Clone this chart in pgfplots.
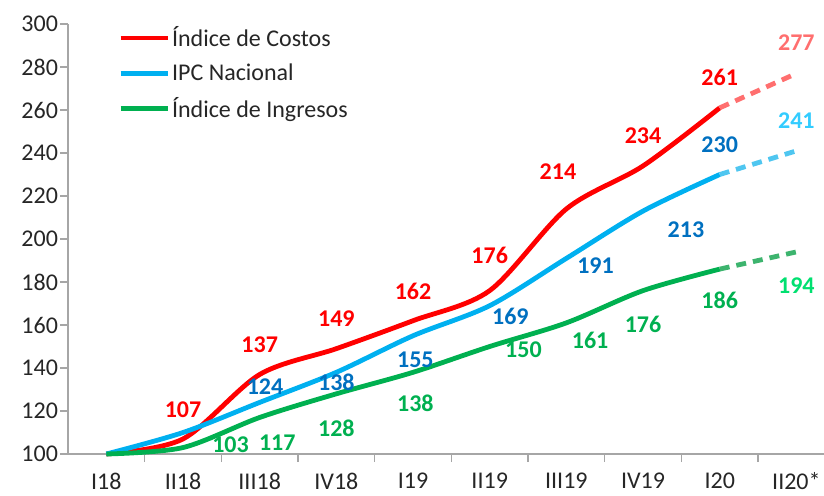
\documentclass[border=0pt]{standalone}
\usepackage{pgfplots}
\pgfplotsset{compat=1.18}
\usepackage{fontspec}
\setmainfont{Carlito}
\definecolor{cred}{HTML}{FF0000}
\definecolor{cblue}{HTML}{00B0F0}
\definecolor{cgreen}{HTML}{00B050}
\definecolor{dred}{HTML}{FF6F6F}
\definecolor{dblue}{HTML}{4FC6F0}
\definecolor{dgreen}{HTML}{3DB46E}
\definecolor{lblue}{HTML}{0070C0}
\definecolor{lred2}{HTML}{FF6F6F}
\definecolor{lblue2}{HTML}{33CCFF}
\definecolor{lgreen2}{HTML}{00E070}
\definecolor{axgray}{HTML}{A6A6A6}
\begin{document}
\begin{tikzpicture}
\useasboundingbox (-34pt,-20.5pt) rectangle (378pt,227pt);
\begin{axis}[
  scale only axis, width=378pt, height=215pt,
  xmin=-0.5, xmax=9.36, ymin=100, ymax=300,
  ytick={100,120,...,300},
  xtick={0,...,9},
  xticklabels={I18,II18,III18,IV18,I19,II19,III19,IV19,I20,II20*},
  minor xtick={0.5,1.5,...,8.5},
  major x tick style={draw=none},
  axis x line*=bottom, axis y line*=left,
  axis line style={axgray, line width=0.7pt},
  tick style={axgray, line width=0.7pt},
  tick align=outside,
  major tick length=4pt, minor tick length=4pt,
  tick label style={font=\fontsize{12}{14}\selectfont, text=black!85},
  yticklabel style={xshift=2.5pt},
  xticklabel style={yshift=-1.8pt},
  /pgf/number format/assume math mode=true,
  legend style={at={(rel axis cs:0.066,1.0)}, anchor=north west, draw=none, fill=none,
    font=\fontsize{12}{14}\selectfont, row sep=5pt, inner sep=0pt,
    nodes={inner sep=1pt, text=black!85}},
  legend cell align=left,
  legend image code/.code={\draw[#1, line width=2.4pt] (0pt,0pt) -- (23.5pt,0pt);},
  clip=false,
]
\addplot[cred, line width=2.4pt, smooth] coordinates {(0,100)(1,107)(2,137)(3,149)(4,162)(5,176)(6,214)(7,234)(8,261)};
\addlegendentry{Índice de Costos}
\addplot[cblue, line width=2.4pt, smooth] coordinates {(0,100)(1,110)(2,124)(3,138)(4,155)(5,169)(6,191)(7,213)(8,230)};
\addlegendentry{IPC Nacional}
\addplot[cgreen, line width=2.4pt, smooth] coordinates {(0,100)(1,103)(2,117)(3,128)(4,138)(5,150)(6,161)(7,176)(8,186)};
\addlegendentry{Índice de Ingresos}
\addplot[dred, line width=2.4pt, dash pattern=on 5pt off 3.5pt, forget plot] coordinates {(8,261)(9,277)};
\addplot[dblue, line width=2.4pt, dash pattern=on 5pt off 3.5pt, forget plot] coordinates {(8,230)(9,241)};
\addplot[dgreen, line width=2.4pt, dash pattern=on 5pt off 3.5pt, forget plot] coordinates {(8,186)(9,194)};
\begin{scope}[every node/.style={font=\bfseries\fontsize{12}{14}\selectfont}]
\node[text=cred] at (axis cs:1,120.5) {107};
\node[text=cred] at (axis cs:2,150.7) {137};
\node[text=cred] at (axis cs:3,162.8) {149};
\node[text=cred] at (axis cs:4,175.8) {162};
\node[text=cred] at (axis cs:5,192.6) {176};
\node[text=cred] at (axis cs:5.89,231.2) {214};
\node[text=cred] at (axis cs:7,247.9) {234};
\node[text=cred] at (axis cs:8,275.3) {261};
\node[text=lred2] at (axis cs:9,291.2) {277};
\node[text=lblue] at (axis cs:2.07,131.2) {124};
\node[text=lblue] at (axis cs:3,133.5) {138};
\node[text=lblue] at (axis cs:4.03,143.7) {155};
\node[text=lblue] at (axis cs:5.27,164.2) {169};
\node[text=lblue] at (axis cs:6.38,187.4) {191};
\node[text=lblue] at (axis cs:7.56,204.2) {213};
\node[text=lblue] at (axis cs:8,243.7) {230};
\node[text=lblue2] at (axis cs:9,254.9) {241};
\node[text=cgreen] at (axis cs:1.62,104.2) {103};
\node[text=cgreen] at (axis cs:2.23,105.1) {117};
\node[text=cgreen] at (axis cs:3,112.1) {128};
\node[text=cgreen] at (axis cs:4.03,123.7) {138};
\node[text=cgreen] at (axis cs:5.44,148.4) {150};
\node[text=cgreen] at (axis cs:6.31,153.0) {161};
\node[text=cgreen] at (axis cs:7,160.5) {176};
\node[text=cgreen] at (axis cs:8,171.6) {186};
\node[text=lgreen2] at (axis cs:9,178.1) {194};
\end{scope}
\end{axis}
\end{tikzpicture}
\end{document}
